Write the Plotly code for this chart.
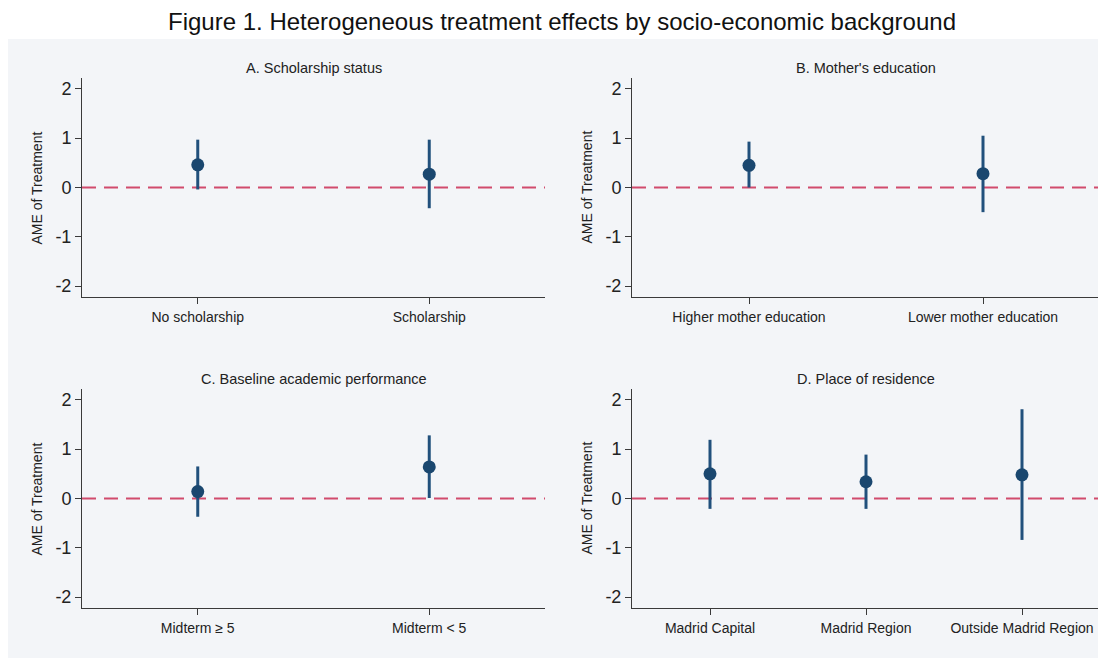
import plotly.graph_objects as go

# ---------------- data ----------------
main_title = "Figure 1. Heterogeneous treatment effects by socio-economic background"
y_title = "AME of Treatment"

panel_titles = ["A. Scholarship status", "B. Mother's education",
                "C. Baseline academic performance", "D. Place of residence"]

cats_a = ["No scholarship", "Scholarship"]
est_a = [0.46, 0.27]
lo_a = [-0.04, -0.42]
hi_a = [0.97, 0.97]

cats_b = ["Higher mother education", "Lower mother education"]
est_b = [0.45, 0.28]
lo_b = [0.00, -0.50]
hi_b = [0.93, 1.05]

cats_c = ["Midterm ≥ 5", "Midterm < 5"]
est_c = [0.14, 0.64]
lo_c = [-0.37, 0.01]
hi_c = [0.65, 1.28]

cats_d = ["Madrid Capital", "Madrid Region", "Outside Madrid Region"]
est_d = [0.50, 0.34, 0.48]
lo_d = [-0.21, -0.21, -0.84]
hi_d = [1.19, 0.89, 1.81]

y_ticks = [-2, -1, 0, 1, 2]
y_range = [-2.22, 2.22]

# ---------------- style ----------------
OFF = 8  # page body margin in the browser
W, H = 1106 - OFF, 658 - OFF
FONT = "Arial, 'Liberation Sans', sans-serif"
MARKER_COLOR = "#1A476F"
BAR_COLOR = "#21507C"
REF_COLOR = "#D14B6C"
AXIS_COLOR = "#3A3A3A"
PANEL_BG = "#F3F5F8"

px_x = lambda p: (p - OFF) / W
px_y = lambda p: 1 - (p - OFF) / H

x_domains = [[px_x(82), px_x(545)], [px_x(632), px_x(1100)]]
y_domains = [[px_y(297), px_y(78)], [px_y(608), px_y(389)]]
title_rows = [px_y(68), px_y(379)]

panels = [
    (cats_a, est_a, lo_a, hi_a, 0, 0),
    (cats_b, est_b, lo_b, hi_b, 1, 0),
    (cats_c, est_c, lo_c, hi_c, 0, 1),
    (cats_d, est_d, lo_d, hi_d, 1, 1),
]

fig = go.Figure()
annotations = []
shapes = [dict(type="rect", xref="paper", yref="paper", x0=0, x1=1, y0=0, y1=px_y(39),
               fillcolor=PANEL_BG, line=dict(width=0), layer="below")]
layout = {}

for i, (cats, est, lo, hi, col, row) in enumerate(panels):
    n = i + 1
    xa = "x" if n == 1 else f"x{n}"
    ya = "y" if n == 1 else f"y{n}"
    xkey = "xaxis" if n == 1 else f"xaxis{n}"
    ykey = "yaxis" if n == 1 else f"yaxis{n}"

    # reference line at zero
    shapes.append(dict(type="line", xref=f"{xa} domain", yref=ya, x0=0, x1=1, y0=0, y1=0,
                       line=dict(color=REF_COLOR, width=2, dash="14px,8px"), layer="below"))

    fig.add_trace(go.Scatter(
        x=cats, y=est, mode="markers", xaxis=xa, yaxis=ya, showlegend=False,
        marker=dict(color=MARKER_COLOR, size=13, line=dict(width=0)),
        error_y=dict(type="data", symmetric=False,
                     array=[h - e for h, e in zip(hi, est)],
                     arrayminus=[e - l for e, l in zip(est, lo)],
                     color=BAR_COLOR, thickness=3, width=0),
    ))

    layout[xkey] = dict(
        domain=x_domains[col], anchor=ya, type="category",
        range=[-0.5, len(cats) - 0.5], showgrid=False, zeroline=False,
        showline=True, linecolor=AXIS_COLOR, linewidth=1,
        ticks="outside", ticklen=6, tickcolor=AXIS_COLOR, tickwidth=1,
        tickfont=dict(family=FONT, size=14, color="#222222"),
        ticklabelstandoff=1, fixedrange=True,
    )
    layout[ykey] = dict(
        domain=y_domains[row], anchor=xa, range=y_range,
        tickvals=y_ticks, ticktext=[str(t) for t in y_ticks],
        showgrid=False, zeroline=False,
        showline=True, linecolor=AXIS_COLOR, linewidth=1,
        ticks="outside", ticklen=6, tickcolor=AXIS_COLOR, tickwidth=1,
        tickfont=dict(family=FONT, size=18, color="#222222"),
        fixedrange=True,
    )

    xd, yd = x_domains[col], y_domains[row]
    annotations.append(dict(text=panel_titles[i], xref="paper", yref="paper",
                            x=(xd[0] + xd[1]) / 2, y=title_rows[row],
                            xanchor="center", yanchor="middle", showarrow=False,
                            font=dict(family=FONT, size=14.5, color="#222222")))
    annotations.append(dict(text=y_title, xref="paper", yref="paper", textangle=-90,
                            x=xd[0] - 46 / W, y=(yd[0] + yd[1]) / 2,
                            xanchor="center", yanchor="middle", showarrow=False,
                            font=dict(family=FONT, size=14, color="#222222")))

fig.update_layout(
    width=W, height=H, margin=dict(l=0, r=0, t=0, b=0),
    paper_bgcolor="white", plot_bgcolor="rgba(0,0,0,0)",
    title=dict(text=main_title, x=px_x(562), y=px_y(22), xanchor="center", yanchor="middle",
               font=dict(family=FONT, size=24, color="#111111")),
    annotations=annotations, shapes=shapes, **layout,
)

fig.write_html("out.html")
